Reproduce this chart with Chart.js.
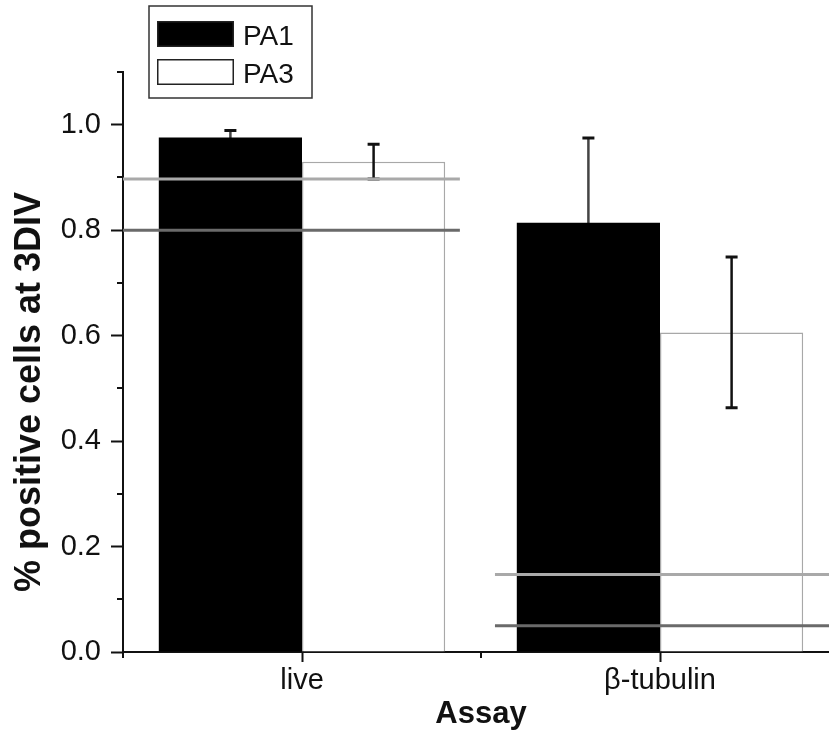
<!DOCTYPE html>
<html>
<head>
<meta charset="utf-8">
<script src="https://cdn.jsdelivr.net/npm/chart.js@4/dist/chart.umd.min.js"></script>
<style>
  html, body { margin: 0; padding: 0; background: #fff; overflow: hidden; width: 829px; height: 747px; }
  #wrap { position: relative; width: 845px; height: 747px; }
  #wrap canvas { position: absolute; left: 0; top: 0; }
</style>
</head>
<body>
<div id="wrap">
  <canvas id="c" width="845" height="747"></canvas>
  <canvas id="refs" width="845" height="747"></canvas>
</div>
<script>
// ---- data ----
const categories = ['live', 'β-tubulin'];
const seriesNames = ['PA1', 'PA3'];
const pa1Values = [0.976, 0.814];
const pa1Errors = [0.013, 0.161];
const pa3Values = [0.930, 0.606];
const pa3Errors = [0.033, 0.143];
// horizontal reference lines per category (x in category-index units, y level)
const refLightY = [0.897, 0.147];
const refDarkY = [0.800, 0.050];
const refStartX = [-0.5, 0.539];
const refEndX = [0.441, 1.5];
const yTickLabels = ['0.0', '0.2', '0.4', '0.6', '0.8', '1.0'];

const FONT = "'Liberation Sans', Arial, Helvetica, sans-serif";
const Y_MIN = 0, Y_MAX = 1.1;
const PAD = { top: 72, right: 6, left: 123, bottom: 95 };

function refLine(ys, i) {
  return [{ x: refStartX[i], y: ys[i] }, { x: refEndX[i], y: ys[i] }];
}

function drawErrors(chart, onTop, only) {
  const ctx = chart.ctx;
  const y = chart.scales.y;
  chart.data.datasets.forEach((ds, di) => {
    if (!ds.errors || !!ds.errorOnTop !== onTop) return;
    if (only !== undefined && only !== di) return;
    const meta = chart.getDatasetMeta(di);
    meta.data.forEach((bar, i) => {
      const v = ds.data[i], e = ds.errors[i];
      const yTop = y.getPixelForValue(v + e);
      const yBot = y.getPixelForValue(v - e);
      ctx.save();
      ctx.strokeStyle = ds.errorColor;
      ctx.lineWidth = 2.5;
      ctx.beginPath();
      ctx.moveTo(bar.x, yTop); ctx.lineTo(bar.x, yBot);
      ctx.stroke();
      ctx.strokeStyle = '#111';
      ctx.lineWidth = 3;
      ctx.beginPath();
      ctx.moveTo(bar.x - 6, yTop); ctx.lineTo(bar.x + 6, yTop);
      ctx.moveTo(bar.x - 6, yBot); ctx.lineTo(bar.x + 6, yBot);
      ctx.stroke();
      ctx.restore();
    });
  });
}

const errorBarPlugin = {
  id: 'errorBars',
  beforeDatasetsDraw(chart) { drawErrors(chart, false); },
  afterDatasetsDraw(chart) { drawErrors(chart, true); },
};

const axisExtrasPlugin = {
  id: 'axisExtras',
  afterDraw(chart) {
    const ctx = chart.ctx;
    const y = chart.scales.y, x = chart.scales.x;
    const area = chart.chartArea;
    ctx.save();
    ctx.strokeStyle = '#111';
    ctx.lineWidth = 2;
    // minor y ticks
    y.ticks.forEach(t => {
      const k = Math.round(t.value * 10);
      if (k % 2 !== 0) {
        const py = Math.round(y.getPixelForValue(t.value));
        ctx.beginPath();
        ctx.moveTo(area.left - 6, py); ctx.lineTo(area.left, py);
        ctx.stroke();
      }
    });
    // minor x ticks at category boundaries
    [-0.5, 0.5, 1.5].forEach(v => {
      const px = Math.round(x.getPixelForValue(v));
      ctx.beginPath();
      ctx.moveTo(px, area.bottom); ctx.lineTo(px, area.bottom + 6);
      ctx.stroke();
    });
    // legend
    const bars = chart.data.datasets;
    ctx.lineWidth = 1.5;
    ctx.strokeStyle = '#333';
    ctx.strokeRect(149, 6, 163, 92);
    ctx.font = '28px ' + FONT;
    ctx.textBaseline = 'alphabetic';
    ctx.textAlign = 'left';
    bars.forEach((d, i) => {
      const top = 21 + i * 38;
      ctx.fillStyle = d.backgroundColor;
      ctx.fillRect(157, top, 77, 26);
      ctx.lineWidth = 1.5;
      ctx.strokeStyle = '#222';
      ctx.strokeRect(157.75, top + 0.75, 75.5, 24.5);
      ctx.fillStyle = '#111';
      ctx.fillText(d.label, 243, top + 24);
    });
    ctx.restore();
  }
};

// main bar chart
new Chart(document.getElementById('c'), {
  type: 'bar',
  data: {
    labels: categories,
    datasets: [
      { label: seriesNames[0], data: pa1Values, errors: pa1Errors, errorColor: '#444', errorOnTop: false,
        backgroundColor: '#000', borderColor: '#000', borderWidth: 0,
        categoryPercentage: 0.8, barPercentage: 1.0 },
      { label: seriesNames[1], data: pa3Values, errors: pa3Errors, errorColor: '#111', errorOnTop: true,
        backgroundColor: '#fff', borderColor: '#a8a8a8', borderWidth: 1.5, borderSkipped: 'bottom',
        categoryPercentage: 0.8, barPercentage: 1.0 },
    ]
  },
  options: {
    responsive: false,
    animation: false,
    devicePixelRatio: 1,
    layout: { padding: { top: PAD.top, right: PAD.right, left: 0, bottom: 0 } },
    plugins: { legend: { display: false }, tooltip: { enabled: false } },
    scales: {
      x: {
        type: 'category',
        offset: true,
        grid: { display: true, drawOnChartArea: false, offset: false, tickLength: 10, tickWidth: 2, tickColor: '#111' },
        border: { display: true, color: '#111', width: 2 },
        ticks: { color: '#111', font: { family: FONT, size: 29 }, padding: 2, maxRotation: 0 },
        title: { display: true, text: 'Assay', color: '#111', font: { family: FONT, size: 31, weight: 'bold' }, padding: { top: 0, bottom: 14 } },
        afterFit(s) { s.height = PAD.bottom; }
      },
      y: {
        min: Y_MIN, max: Y_MAX,
        grid: { display: true, drawOnChartArea: false, tickLength: 12, tickWidth: 2,
          tickColor: c => (Math.round(c.tick.value * 10) % 2 === 0 ? '#111' : 'rgba(0,0,0,0)') },
        border: { display: true, color: '#111', width: 2 },
        ticks: {
          stepSize: 0.1, color: '#111', font: { family: FONT, size: 29 }, padding: 10,
          callback: v => { const k = Math.round(v * 10); return (k % 2 === 0 && k / 2 < yTickLabels.length) ? yTickLabels[k / 2] : ''; }
        },
        title: { display: true, text: '% positive cells at 3DIV      ', color: '#111', font: { family: FONT, size: 36, weight: 'bold' }, padding: { top: 8, bottom: 0 } },
        afterFit(s) { s.width = PAD.left; }
      }
    }
  },
  plugins: [errorBarPlugin, axisExtrasPlugin]
});

// overlay: horizontal reference lines, same plot area and value ranges
const lineBase = { borderWidth: 3, pointRadius: 0, fill: false, tension: 0 };
new Chart(document.getElementById('refs'), {
  type: 'line',
  data: {
    datasets: [
      Object.assign({ label: 'light-live', data: refLine(refLightY, 0), borderColor: '#a9a9a9' }, lineBase),
      Object.assign({ label: 'dark-live', data: refLine(refDarkY, 0), borderColor: '#6a6a6a' }, lineBase),
      Object.assign({ label: 'light-beta', data: refLine(refLightY, 1), borderColor: '#a9a9a9' }, lineBase),
      Object.assign({ label: 'dark-beta', data: refLine(refDarkY, 1), borderColor: '#6a6a6a' }, lineBase),
    ]
  },
  options: {
    responsive: false,
    animation: false,
    devicePixelRatio: 1,
    layout: { padding: PAD },
    plugins: { legend: { display: false }, tooltip: { enabled: false } },
    scales: {
      x: { type: 'linear', display: false, offset: false, min: -0.5, max: categories.length - 0.5 },
      y: { type: 'linear', display: false, min: Y_MIN, max: Y_MAX }
    }
  }
});
</script>
</body>
</html>
